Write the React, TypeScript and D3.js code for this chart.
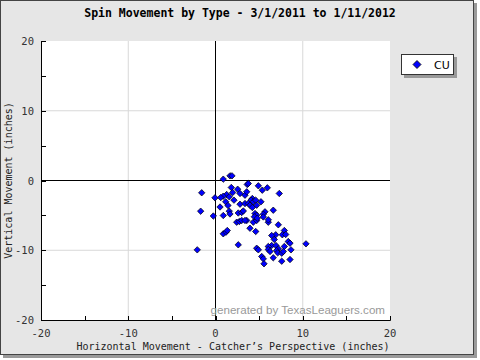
import React from "react";
import * as d3 from "d3";

const title = "Spin Movement by Type - 3/1/2011 to 1/11/2012";
const xTitle = "Horizontal Movement - Catcher\u2019s Perspective (inches)";
const yTitle = "Vertical Movement (inches)";
const seriesName = "CU";
const xTicks = [-20, -10, 0, 10, 20];
const yTicks = [20, 10, 0, -10, -20];
const minorTicks = [-15, -5, 5, 15];

const hMove = [
  1.66, 1.89, 0.89, -1.58, -0.06, 1.81, 3.64, 2.54, 1.97, 1.28, 0.89, 0.6, 1.58, 2.81, 3.38, 1.17, 2.12, 2.81, 3.38,
  -1.7, -0.25, 0.89, 1.58, 1.66, 2.61, 3.0, 3.19, 0.52, 1.43, 3.76, 4.91, 5.36, 5.94, 7.31, 3.58, 4.22, 4.07, 4.33,
  4.61, 5.21, 3.76, 3.95, 4.72, 4.22, 6.62, 5.67, 5.48, 4.53, 4.72, 4.45, 5.48, 3.58, 4.33, 4.72, 4.79, 6.05, 6.05,
  3.95, 4.61, 7.2, 7.89, 7.66, 8.05, 6.9, 6.44, 6.74, 8.34, 8.54, 6.44, 6.05, 6.93, 7.2, 7.89, 8.65, 10.37, 4.72,
  4.91, 6.05, 6.25, 7.01, 7.13, 7.59, 7.77, 5.3, 5.48, 6.62, 7.59, 8.54, 5.56, 2.43, 2.73, 3.0, 3.38, 0.89, 1.2,
  1.35, 2.61, -2.09,
];
const vMove = [
  0.67, 0.67, 0.19, -1.76, -2.48, -1.0, -0.57, -1.25, -1.72, -2.01, -2.25, -2.44, -2.34, -1.86, -2.11, -3.05, -2.82,
  -3.4, -3.3, -4.4, -5.09, -5.02, -4.4, -4.8, -4.66, -4.59, -4.37, -3.8, -3.58, -0.43, -0.76, -1.39, -1.05, -1.86,
  -1.62, -2.58, -2.82, -3.05, -2.82, -3.05, -3.3, -3.54, -3.54, -3.87, -4.26, -4.49, -4.83, -4.73, -4.97, -5.2,
  -5.23, -5.73, -5.98, -5.73, -5.41, -5.98, -5.63, -6.84, -7.31, -6.35, -7.17, -7.78, -7.74, -7.78, -7.89, -8.46,
  -8.75, -8.99, -9.32, -9.46, -9.32, -9.79, -9.46, -9.94, -9.08, -9.71, -9.94, -9.89, -10.18, -10.04, -10.37,
  -10.42, -10.18, -10.9, -11.23, -11.08, -11.57, -11.33, -11.94, -5.98, -5.88, -5.73, -5.73, -7.64, -7.41, -7.17,
  -9.22, -9.94,
];

const W = 480;
const H = 360;
const L = 41, R = 390, T = 41, B = 320;

export default function App() {
  const x = d3.scaleLinear().domain([-20, 20]).range([L, R]);
  const y = d3.scaleLinear().domain([-20, 20]).range([B, T]);
  const mono = "'DejaVu Sans Mono', monospace";
  const diamond = (cx: number, cy: number, s = 3.2) =>
    `M${cx},${cy - s}L${cx + s},${cy}L${cx},${cy + s}L${cx - s},${cy}Z`;
  const pts = hMove.map((h, i) => [h, vMove[i]] as [number, number]);

  return (
    <svg width={W} height={H} style={{ position: "absolute", left: 0, top: 0 }} xmlns="http://www.w3.org/2000/svg">
      {/* frame with shadow */}
      <rect x={3} y={3} width={474} height={355} fill="#9a9a9a" />
      <rect x={0.5} y={0.5} width={473} height={354} fill="#e6e6e6" stroke="#444" />
      <text x={240} y={17} textAnchor="middle" fontFamily={mono} fontWeight="bold" fontSize={11.5} fill="#000">
        {title}
      </text>
      {/* plot area */}
      <rect x={L} y={T} width={R - L} height={B - T} fill="#fff" />
      {[-10, 10].map((v) => (
        <line key={"gx" + v} x1={x(v)} x2={x(v)} y1={T} y2={B} stroke="#d8d8d8" />
      ))}
      {[-10, 10].map((v) => (
        <line key={"gy" + v} x1={L} x2={R} y1={y(v)} y2={y(v)} stroke="#d8d8d8" />
      ))}
      <line x1={x(0)} x2={x(0)} y1={T} y2={B} stroke="#000" />
      <line x1={L} x2={R} y1={y(0)} y2={y(0)} stroke="#000" />
      {/* axes */}
      <line x1={L + 0.5} x2={L + 0.5} y1={T} y2={B + 0.5} stroke="#000" />
      <line x1={L} x2={R + 0.5} y1={B + 0.5} y2={B + 0.5} stroke="#000" />
      {[...xTicks, ...minorTicks].map((v) => (
        <line key={"tx" + v} x1={Math.round(x(v)) + 0.5} x2={Math.round(x(v)) + 0.5} y1={B - 4} y2={B + 0.5} stroke="#000" />
      ))}
      {[...yTicks, ...minorTicks].map((v) => (
        <line key={"ty" + v} x1={L} x2={L + 5} y1={Math.round(y(v)) + 0.5} y2={Math.round(y(v)) + 0.5} stroke="#000" />
      ))}
      {yTicks.map((v) => (
        <text key={"ly" + v} x={34} y={y(v) + 4} textAnchor="end" fontFamily={mono} fontSize={10.5} fill="#333">
          {v}
        </text>
      ))}
      {xTicks.map((v) => (
        <text key={"lx" + v} x={x(v)} y={337} textAnchor="middle" fontFamily={mono} fontSize={10.5} fill="#333">
          {v}
        </text>
      ))}
      <text x={233} y={350} textAnchor="middle" fontFamily={mono} fontSize={10} fill="#222">
        {xTitle}
      </text>
      <text transform={`translate(12,${(T + B) / 2}) rotate(-90)`} textAnchor="middle" fontFamily={mono} fontSize={10} fill="#222">
        {yTitle}
      </text>
      <text x={385} y={314} textAnchor="end" fontFamily="'Liberation Sans', Arial, sans-serif" fontSize={11.6} fill="#999">
        generated by TexasLeaguers.com
      </text>
      {/* points */}
      {pts.map(([h, v], i) => (
        <path key={i} d={diamond(x(h), y(v))} fill="#0000ff" stroke="#000" strokeWidth={0.7} />
      ))}
      {/* legend */}
      <rect x={404} y={57} width={53} height={21} fill="#999" />
      <rect x={401.5} y={54.5} width={52} height={20} fill="#fff" stroke="#333" />
      <path d={diamond(417, 64.5, 4)} fill="#0000ff" stroke="#000" strokeWidth={0.8} />
      <text x={434} y={69} fontFamily="'DejaVu Sans', sans-serif" fontSize={11} fill="#000">
        {seriesName}
      </text>
    </svg>
  );
}
